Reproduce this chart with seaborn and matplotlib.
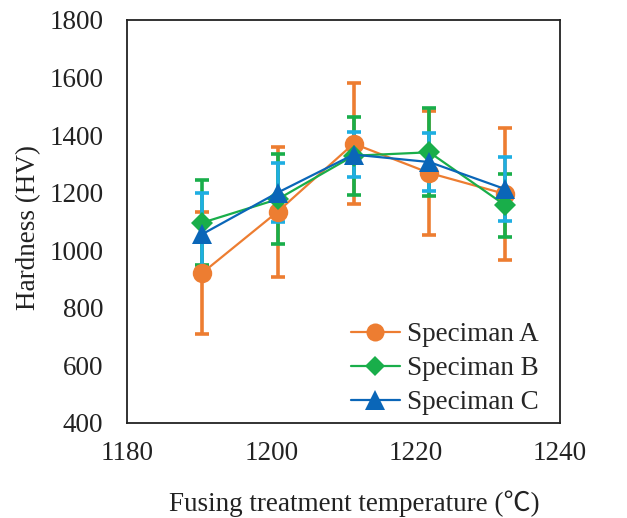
import matplotlib.pyplot as plt
import pandas as pd
import seaborn as sns
from matplotlib.lines import Line2D

# Data
temps = [1190.4, 1200.9, 1211.4, 1221.9, 1232.4]
series = ["Speciman A", "Speciman B", "Speciman C"]
hv_a = [920, 1134, 1370, 1268, 1195]
hv_b = [1095, 1177, 1328, 1340, 1156]
hv_c = [1055, 1200, 1332, 1306, 1212]
err_a = [212, 226, 210, 214, 228]
err_b = [147, 157, 136, 153, 109]
err_c = [143, 102, 77, 102, 112]

line_colors = {"Speciman A": "#ED7D31", "Speciman B": "#19AE4A", "Speciman C": "#0A66B8"}
err_colors = {"Speciman A": "#ED7D31", "Speciman B": "#19AE4A", "Speciman C": "#1EAEE2"}
markers = {"Speciman A": "o", "Speciman B": "D", "Speciman C": "^"}
msizes = {"Speciman A": 14, "Speciman B": 11, "Speciman C": 15}

rows = []
for name, vals, errs in zip(series, [hv_a, hv_b, hv_c], [err_a, err_b, err_c]):
    for t, v, e in zip(temps, vals, errs):
        rows.append({"temp": t, "hv": v, "err": e, "series": name})
df = pd.DataFrame(rows)

sns.set_style("white")
plt.rcParams["font.family"] = ["Liberation Serif", "Noto Sans CJK JP", "DejaVu Sans"]

fig = plt.figure(figsize=(6.27, 5.18), dpi=100)
ax = fig.add_axes([0.2026, 0.184, 0.6905, 0.7775])

# 1. Error bars first (markers sit on top of them)
for name in series:
    sub = df[df["series"] == name]
    ax.errorbar(sub["temp"], sub["hv"], yerr=sub["err"], fmt="none",
                ecolor=err_colors[name], elinewidth=2.6, capsize=5, capthick=2.6,
                zorder=2)

# 2. Lines + markers, one series at a time for marker sizes
for name in series:
    sub = df[df["series"] == name]
    sns.lineplot(data=sub, x="temp", y="hv", color=line_colors[name],
                 marker=markers[name], markersize=msizes[name], markeredgewidth=0,
                 linewidth=1.6, ax=ax, zorder=3, legend=False)

ax.set_xlim(1180, 1240)
ax.set_ylim(400, 1800)
ax.set_xticks([1180, 1200, 1220, 1240])
ax.set_yticks(range(400, 1801, 200))
ax.tick_params(length=0, labelsize=19.5, colors="#222222")
ax.tick_params(axis="y", pad=17)
ax.tick_params(axis="x", pad=13)
for s in ax.spines.values():
    s.set_color("#222222")
    s.set_linewidth(1.3)

ax.set_xlabel("Fusing treatment temperature (\u2103)", fontsize=19.5, color="#222222")
ax.set_ylabel("Hardness (HV)", fontsize=19.5, color="#222222")
ax.xaxis.set_label_coords(0.524, -0.167)
ax.yaxis.set_label_coords(-0.199, 0.484)

handles = [Line2D([], [], color=line_colors[n], marker=markers[n], markersize=msizes[n] - 1,
                  markeredgewidth=0, linewidth=1.6) for n in series]
ax.legend(handles, series, loc="lower right", bbox_to_anchor=(1.0, -0.035),
          frameon=False, fontsize=19.5, handlelength=1.8, handletextpad=0.25,
          labelspacing=0.33, borderaxespad=0.4)

fig.savefig("out.png", dpi=100)
